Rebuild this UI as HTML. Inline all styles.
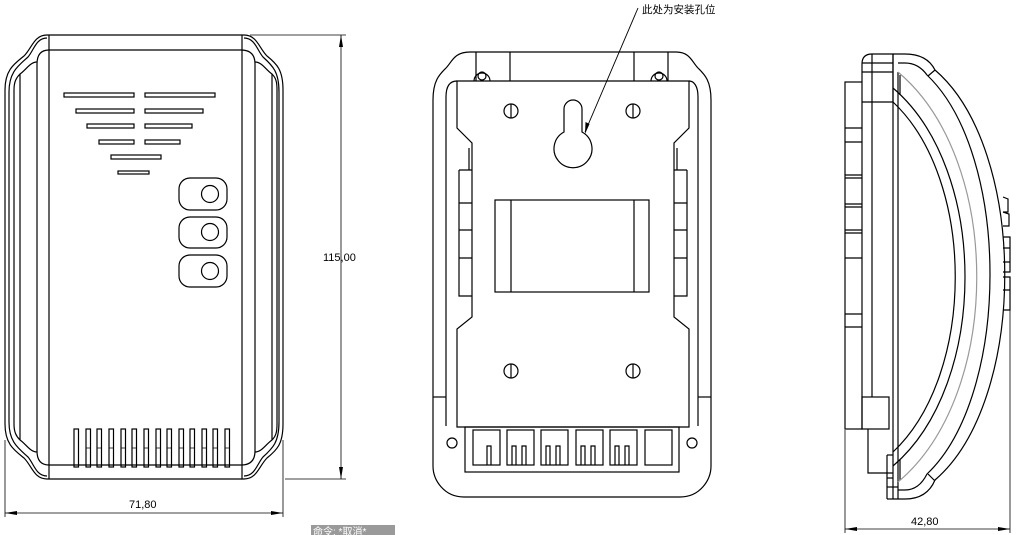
<!DOCTYPE html>
<html><head><meta charset="utf-8"><style>
html,body{margin:0;padding:0;background:#fff;width:1022px;height:535px;overflow:hidden}
svg{display:block}
text{font-family:"Liberation Sans","Noto Sans CJK SC",sans-serif;fill:#000}
</style></head><body>
<svg width="1022" height="535" viewBox="0 0 1022 535" xmlns="http://www.w3.org/2000/svg">
<g fill="none" stroke="#000" stroke-width="1.2">
<!-- FRONT VIEW -->
<line x1="47" y1="35" x2="244" y2="35"/>
<line x1="47" y1="479" x2="244" y2="479"/>
<line x1="49" y1="35" x2="49" y2="479"/>
<line x1="242" y1="35" x2="242" y2="479"/>
<path d="M49,50 H241 Q255,50 255,64 V451 Q255,465 241,465 H49 Q37,465 37,451 V64 Q37,50 49,50 Z"/>
<path d="M47,35 C34,35 32,48 24,56 C14,64 5,70 5,90 V424 C5,444 14,450 24,458 C32,466 34,479 47,479"/>
<path d="M47,38 C36,38 34,50 28,57 C18,66 9,72 9,92 V422 C9,442 18,448 28,457 C34,464 36,476 47,476"/>
<path d="M37,62 C30,62 26,70 20,74 C16,78 14,82 14,90 V424 C14,432 16,436 20,440 C26,444 30,452 37,452"/>
<line x1="20" y1="74" x2="20" y2="440"/>
<path d="M244,35 C257,35 259,48 267,56 C277,64 283,70 283,90 V424 C283,444 277,450 267,458 C259,466 257,479 244,479"/>
<path d="M244,38 C255,38 257,50 263,57 C273,66 279,72 279,92 V422 C279,442 273,448 263,457 C257,464 255,476 244,476"/>
<path d="M255,62 C262,62 266,70 272,74 C276,78 277,82 277,90 V424 C277,432 276,436 272,440 C266,444 262,452 255,452"/>
<line x1="272" y1="74" x2="272" y2="440"/>
<rect x="64" y="93" width="70" height="4"/><rect x="145" y="93" width="70" height="4"/>
<rect x="76" y="109" width="58" height="4"/><rect x="145" y="109" width="58" height="4"/>
<rect x="87" y="124" width="47" height="4"/><rect x="145" y="124" width="47" height="4"/>
<rect x="99" y="140" width="35" height="4"/><rect x="145" y="140" width="35" height="4"/>
<rect x="111" y="155" width="50" height="4"/>
<rect x="118" y="171" width="31" height="3"/>
<rect x="179" y="178" width="48" height="32" rx="11"/><circle cx="210" cy="194" r="8.5"/>
<rect x="179" y="217" width="48" height="31" rx="11"/><circle cx="210" cy="232" r="8.5"/>
<rect x="179" y="255" width="48" height="32" rx="11"/><circle cx="210" cy="271" r="8.5"/>
<rect x="74" y="429" width="4.5" height="38"/><rect x="86" y="429" width="4.5" height="38"/><rect x="97" y="429" width="4.5" height="38"/><rect x="109" y="429" width="4.5" height="38"/><rect x="121" y="429" width="4.5" height="38"/><rect x="132" y="429" width="4.5" height="38"/><rect x="144" y="429" width="4.5" height="38"/><rect x="156" y="429" width="4.5" height="38"/><rect x="167" y="429" width="4.5" height="38"/><rect x="179" y="429" width="4.5" height="38"/><rect x="190" y="429" width="4.5" height="38"/><rect x="202" y="429" width="4.5" height="38"/><rect x="213" y="429" width="4.5" height="38"/><rect x="225" y="429" width="4.5" height="38"/>
<path d="M86,448 h4.5 M97,448 h4.5 M109,448 h4.5 M121,448 h4.5 M132,448 h4.5 M144,448 h4.5 M156,448 h4.5 M167,448 h4.5 M179,448 h4.5 M190,448 h4.5 M202,448 h4.5 M213,448 h4.5 M225,448 h4.5" stroke-width="0.8"/>
<g stroke-width="0.8">
<line x1="250" y1="35" x2="346" y2="35"/><line x1="285" y1="479" x2="346" y2="479"/>
<line x1="341" y1="35" x2="341" y2="479"/>
<line x1="5" y1="440" x2="5" y2="517"/><line x1="283" y1="440" x2="283" y2="517"/>
<line x1="5" y1="513" x2="283" y2="513"/>
</g>
</g>
<g fill="#000" stroke="none">
<path d="M341,35 l-2,12 h4z"/><path d="M341,479 l-2,-12 h4z"/>
<path d="M5,513 l12,-2 v4z"/><path d="M283,513 l-12,-2 v4z"/>
</g>

<g fill="none" stroke="#000" stroke-width="1.2">
<!-- BACK VIEW -->
<path d="M470,52 H676 C690,52 692,62 698,68 C704,74 711,80 711,100 V466 C711,480 700,497 680,497 H464 C444,497 433,480 433,466 V100 C433,80 440,74 446,68 C452,62 454,52 470,52 Z"/>
<line x1="446" y1="97" x2="446" y2="426"/><line x1="698" y1="97" x2="698" y2="426"/>
<line x1="433" y1="397" x2="446" y2="397"/><line x1="698" y1="397" x2="711" y2="397"/>
<path d="M446,97 C446,86 450,81 457,81"/><path d="M698,97 C698,86 694,81 689,81"/>
<line x1="476" y1="52" x2="476" y2="81"/><line x1="510" y1="52" x2="510" y2="81"/>
<line x1="634" y1="52" x2="634" y2="81"/><line x1="668" y1="52" x2="668" y2="81"/>
<path d="M474,81 A8,8 0 1 1 490,81"/><circle cx="482" cy="76" r="4"/>
<path d="M651,81 A8,8 0 1 1 667,81"/><circle cx="659" cy="76" r="4"/>
<path d="M457,81 H689 V128 L674,143 V317 L689,329 V427 H457 V329 L472,317 V143 L457,128 Z"/>
<path d="M459,170 H472 M459,170 V296 H472 M459,203 H472 M459,230 H472 M459,258 H472"/>
<path d="M687,170 H674 M687,170 V296 H674 M687,203 H674 M687,230 H674 M687,258 H674"/>
<line x1="469" y1="148" x2="469" y2="170"/><line x1="677" y1="148" x2="677" y2="170"/>
<path d="M564,132 V109 A9,9 0 0 1 582,109 V132 A19,19 0 1 1 564,132 Z"/>
<circle cx="511" cy="111" r="7"/><line x1="511" y1="104" x2="511" y2="118"/>
<circle cx="633" cy="111" r="7"/><line x1="633" y1="104" x2="633" y2="118"/>
<circle cx="511" cy="371" r="7"/><line x1="511" y1="364" x2="511" y2="378"/>
<circle cx="633" cy="371" r="7"/><line x1="633" y1="364" x2="633" y2="378"/>
<rect x="495" y="200" width="154" height="92"/>
<line x1="511" y1="200" x2="511" y2="292"/><line x1="634" y1="200" x2="634" y2="292"/>
<rect x="465" y="427" width="214" height="45"/>
<rect x="473" y="430" width="27" height="35"/><rect x="507" y="430" width="27" height="35"/><rect x="541" y="430" width="27" height="35"/><rect x="576" y="430" width="27" height="35"/><rect x="610" y="430" width="27" height="35"/><rect x="645" y="430" width="27" height="35"/>
<path d="M487,465 V446 H491 V465"/>
<path d="M512,465 V446 H516 V465 M522,465 V446 H526 V465"/>
<path d="M546,465 V446 H550 V465 M556,465 V446 H560 V465"/>
<path d="M581,465 V446 H585 V465 M591,465 V446 H595 V465"/>
<path d="M615,465 V446 H619 V465 M625,465 V446 H629 V465"/>
<circle cx="452" cy="443" r="5"/><circle cx="692" cy="443" r="5"/>
<line x1="638" y1="8" x2="585" y2="132" stroke-width="0.9"/>
</g>
<path d="M585,134 l0.5,-12 l4,2z" fill="#000"/>
<text x="642" y="13" font-size="10.5">此处为安装孔位</text>

<g fill="none" stroke="#000" stroke-width="1.2">
<!-- SIDE VIEW -->
<rect x="845" y="82" width="17" height="347"/>
<path d="M845,128 H862 M845,142 H862 M845,175 H862 M845,178 H862 M845,204 H862 M845,207 H862 M845,230 H862 M845,233 H862 M845,258 H862 M845,314 H862 M845,327 H862"/>
<path d="M862,82 V64 Q862,54 872,54 H893 V102 H862"/>
<line x1="862" y1="63" x2="893" y2="63"/><line x1="862" y1="72" x2="893" y2="72"/>
<line x1="872" y1="54" x2="872" y2="397"/>
<line x1="893" y1="54" x2="893" y2="499"/>
<rect x="862" y="397" width="27" height="32"/>
<path d="M868,429 V473 H893"/>
<line x1="887" y1="455" x2="893" y2="455"/><line x1="887" y1="478" x2="893" y2="478"/>
<line x1="887" y1="455" x2="887" y2="499"/><line x1="887" y1="499" x2="893" y2="499"/>
<line x1="887" y1="487" x2="898" y2="487"/>
<line x1="898" y1="72" x2="898" y2="499"/>
<line x1="900" y1="75" x2="900" y2="95"/><line x1="900" y1="460" x2="900" y2="480"/>
<path d="M893,54 H905 C920,54 930,60 935,70 C1028,150 1028,400 935,480 C930,492 920,499 905,499 H893"/>
<path d="M898,63 H905 C915,63 922,68 927,75 C1011,155 1011,394 927,474 C922,484 915,490 905,490 H898"/>
<line x1="928" y1="76" x2="935" y2="70"/><line x1="928" y1="474" x2="935" y2="481"/>
<path d="M898,72 C1003,160 1003,394 898,482" stroke="#999"/>
<path d="M893,88 C989,170 989,384 893,466"/>
<path d="M893,102 C976,180 976,374 893,452"/>
<path d="M1003,197 L1008,199 V212 H1003 M1003,212 L1009,214 V226 H1003 M1003,237 H1010 V272 H1003 M1003,248 H1010 M1003,262 H1010 M1003,277 H1010 V310 H1003 M1003,290 H1010"/>
<g stroke-width="0.8">
<line x1="845" y1="430" x2="845" y2="533"/><line x1="1010" y1="310" x2="1010" y2="533"/>
<line x1="845" y1="529" x2="1010" y2="529"/>
</g>
</g>
<g fill="#000">
<path d="M845,529 l12,-2 v4z"/><path d="M1010,529 l-12,-2 v4z"/>
</g>
<text x="323" y="261" font-size="11">115,00</text>
<text x="129" y="508" font-size="11">71,80</text>
<text x="911" y="525" font-size="11">42,80</text>
<rect x="311" y="525" width="84" height="10" fill="#9a9a9a"/>
<text x="313" y="535" font-size="10" style="fill:#fff">命令: *取消*</text>
</svg>
</body></html>
